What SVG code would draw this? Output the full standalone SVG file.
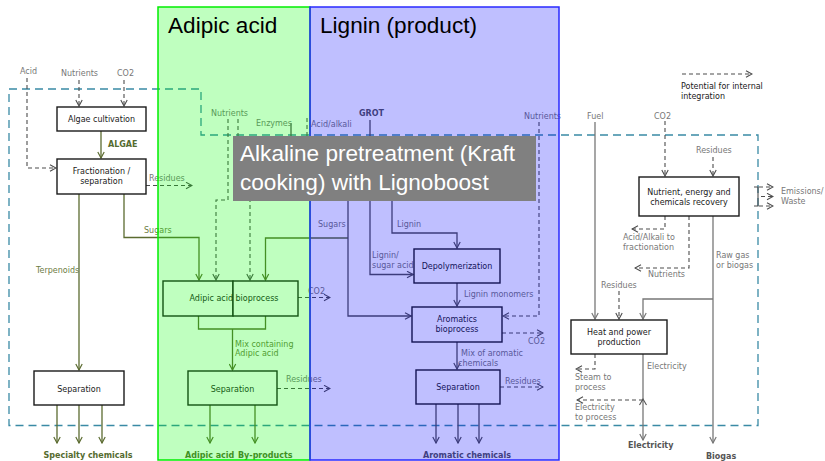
<svg xmlns="http://www.w3.org/2000/svg" width="825" height="461" viewBox="0 0 825 461">
<style>
.box{fill:#fff;stroke:#1a1a1a;stroke-width:1.4}
.nt{font-family:"DejaVu Sans",sans-serif;font-size:8px;fill:#1a1a1a;text-anchor:middle}
.lb{font-family:"DejaVu Sans",sans-serif;font-size:8px;fill:#777}
.lk{font-family:"DejaVu Sans",sans-serif;font-size:8px;fill:#1a1a1a}
.lo{font-family:"DejaVu Sans",sans-serif;font-size:8px;fill:#6e7d45}
.bd{font-family:"DejaVu Sans",sans-serif;font-size:8px;font-weight:bold}
.dsh{fill:none;stroke:#4d4d4d;stroke-width:1.1;stroke-dasharray:4,3}
.sol{fill:none;stroke:#777;stroke-width:1.3}
.olv{fill:none;stroke:#5b6b30;stroke-width:1.3}
.drk{fill:none;stroke:#505050;stroke-width:1.3}
.ttl{font-family:"Liberation Sans",Arial,sans-serif;font-size:22.6px;fill:#000}
.wt{fill:#fff}
</style>
<defs>
<marker id="ad" viewBox="0 0 10 10" refX="9" refY="5" markerWidth="8" markerHeight="8" markerUnits="userSpaceOnUse" orient="auto"><path d="M1.5,1 L9,5 L1.5,9" fill="none" stroke="#4d4d4d" stroke-width="1.4"/></marker>
<marker id="ag" viewBox="0 0 10 10" refX="9" refY="5" markerWidth="8" markerHeight="8" markerUnits="userSpaceOnUse" orient="auto"><path d="M1.5,1 L9,5 L1.5,9" fill="none" stroke="#777" stroke-width="1.5"/></marker>
<marker id="ao" viewBox="0 0 10 10" refX="9" refY="5" markerWidth="8" markerHeight="8" markerUnits="userSpaceOnUse" orient="auto"><path d="M1.5,1 L9,5 L1.5,9" fill="none" stroke="#5b6b30" stroke-width="1.5"/></marker>
<marker id="ak" viewBox="0 0 10 10" refX="9" refY="5" markerWidth="8" markerHeight="8" markerUnits="userSpaceOnUse" orient="auto"><path d="M1.5,1 L9,5 L1.5,9" fill="none" stroke="#505050" stroke-width="1.5"/></marker>
</defs>
<rect width="825" height="461" fill="#fff"/>

<g id="connectors">
<path d="M9,89 H201 V135 H758 V425.5 H9 Z" fill="none" stroke="#3a8aa5" stroke-width="1.3" stroke-dasharray="8,5"/>
<path class="dsh" d="M27,78 V168 H56" marker-end="url(#ad)"/>
<path class="dsh" d="M79,80 V106" marker-end="url(#ad)"/>
<path class="dsh" d="M124,80 V106" marker-end="url(#ad)"/>
<path class="olv" d="M101,131 V158" marker-end="url(#ao)"/>
<path class="dsh" d="M146,185.5 H192" marker-end="url(#ad)"/>
<path class="olv" d="M79,194 V370" marker-end="url(#ao)"/>
<path class="olv" d="M124,194 V237.5 H199 V280" marker-end="url(#ao)"/>
<path class="olv" d="M57,405 V443" marker-end="url(#ao)"/>
<path class="olv" d="M79,405 V443" marker-end="url(#ao)"/>
<path class="olv" d="M102,405 V443" marker-end="url(#ao)"/>
<path class="dsh" d="M228,119 V200 H216 V280" marker-end="url(#ad)"/>
<path class="dsh" d="M238,119 V200 H250 V280" marker-end="url(#ad)"/>
<path class="drk" d="M291,123 V137"/>
<path class="dsh" d="M307,118 V137"/>
<path class="olv" d="M348,238 H265.5 V280" marker-end="url(#ao)"/>
<path class="olv" d="M198.5,316 V329 H265.5 V316"/>
<path class="olv" d="M232.5,329 V370" marker-end="url(#ao)"/>
<path class="dsh" d="M298,297.5 H330" marker-end="url(#ad)"/>
<path class="dsh" d="M277,388.5 H330" marker-end="url(#ad)"/>
<path class="olv" d="M210,405 V443" marker-end="url(#ao)"/>
<path class="olv" d="M255,405 V443" marker-end="url(#ao)"/>
<path class="drk" d="M370,120 V137"/>
<path class="drk" d="M348,200 V316 H411" marker-end="url(#ak)"/>
<path class="drk" d="M370,200 V274.5 H413" marker-end="url(#ak)"/>
<path class="drk" d="M392,200 V233 H457 V248" marker-end="url(#ak)"/>
<path class="drk" d="M457,283 V306" marker-end="url(#ak)"/>
<path class="dsh" d="M539,122 V316 H503" marker-end="url(#ad)"/>
<path class="dsh" d="M502,333 H543" marker-end="url(#ad)"/>
<path class="drk" d="M457,342 V369" marker-end="url(#ak)"/>
<path class="dsh" d="M500,387 H543" marker-end="url(#ad)"/>
<path class="drk" d="M436,404 V443" marker-end="url(#ak)"/>
<path class="drk" d="M458,404 V443" marker-end="url(#ak)"/>
<path class="drk" d="M479,404 V443" marker-end="url(#ak)"/>
<path class="dsh" d="M682,74 H752" marker-end="url(#ad)"/>
<path class="sol" d="M595,122 V319" marker-end="url(#ag)"/>
<path class="dsh" d="M665,121 V176" marker-end="url(#ad)"/>
<path class="dsh" d="M713,157 V176" marker-end="url(#ad)"/>
<path d="M754,187 H758 V206 H754" fill="none" stroke="#4d4d4d" stroke-width="1.1"/>
<path class="dsh" d="M759,187 H773" marker-end="url(#ad)"/>
<path class="dsh" d="M761,196.5 H773" marker-end="url(#ad)"/>
<path class="dsh" d="M759,206 H773" marker-end="url(#ad)"/>
<path class="dsh" d="M665,216 V229 H632" marker-end="url(#ad)"/>
<path class="dsh" d="M689,216 V268 H635" marker-end="url(#ad)"/>
<path class="sol" d="M713,216 V443" marker-end="url(#ag)"/>
<path class="sol" d="M713,299 H643 V319" marker-end="url(#ag)"/>
<path class="dsh" d="M619,291 V319" marker-end="url(#ad)"/>
<path class="dsh" d="M595,354 V369 H576" marker-end="url(#ad)"/>
<path class="sol" d="M643,354 V440" marker-end="url(#ag)"/>
<path d="M639.5,405 L643,399 L646.5,405" fill="none" stroke="#555" stroke-width="1.1"/>
<path class="dsh" d="M643,400 H577" marker-end="url(#ad)"/>
</g>

<g id="labels">
<text class="lb" x="20" y="74">Acid</text>
<text class="lb" x="61" y="76">Nutrients</text>
<text class="lb" x="117" y="76">CO2</text>
<text class="bd" x="108" y="147" fill="#556b2f">ALGAE</text>
<text class="lb" x="149" y="181">Residues</text>
<text class="lo" x="144" y="233">Sugars</text>
<text class="lo" x="36" y="273">Terpenoids</text>
<text class="bd" x="88" y="457.5" fill="#556b2f" text-anchor="middle">Specialty chemicals</text>
<text class="lb" x="211" y="116">Nutrients</text>
<text class="lb" x="256" y="126">Enzymes</text>
<text class="lb" x="311" y="127">Acid/alkali</text>
<text class="bd" x="359" y="116" fill="#555">GROT</text>
<text class="lb" x="308" y="294">CO2</text>
<text class="lo" x="235" y="347">Mix containing</text>
<text class="lo" x="235" y="356">Adipic acid</text>
<text class="lb" x="286" y="382">Residues</text>
<text class="bd" x="185" y="457.5" fill="#556b2f">Adipic acid</text>
<text class="bd" x="238" y="457.5" fill="#556b2f">By-products</text>
<text class="lb" x="318" y="227">Sugars</text>
<text class="lb" x="397" y="227">Lignin</text>
<text class="lb" x="372" y="258">Lignin/</text>
<text class="lb" x="372" y="268">sugar acids</text>
<text class="lb" x="464" y="297">Lignin monomers</text>
<text class="lb" x="524" y="119">Nutrients</text>
<text class="lb" x="528" y="344">CO2</text>
<text class="lb" x="461" y="355.5">Mix of aromatic</text>
<text class="lb" x="458" y="366">chemicals</text>
<text class="lb" x="505" y="384">Residues</text>
<text class="bd" x="467" y="457.5" fill="#555" text-anchor="middle">Aromatic chemicals</text>
<text class="lk" x="681" y="89">Potential for internal</text>
<text class="lk" x="681" y="99">integration</text>
<text class="lb" x="587" y="119">Fuel</text>
<text class="lb" x="654" y="118.5">CO2</text>
<text class="lb" x="696" y="153">Residues</text>
<text class="lb" x="781" y="194">Emissions/</text>
<text class="lb" x="781" y="204">Waste</text>
<text class="lb" x="623" y="239.5">Acid/Alkali to</text>
<text class="lb" x="623" y="250">fractionation</text>
<text class="lb" x="648" y="277">Nutrients</text>
<text class="lb" x="716" y="258">Raw gas</text>
<text class="lb" x="716" y="268">or biogas</text>
<text class="lb" x="601" y="288">Residues</text>
<text class="lb" x="647" y="369">Electricity</text>
<text class="lb" x="575" y="380">Steam to</text>
<text class="lb" x="575" y="389.5">process</text>
<text class="lb" x="575" y="410">Electricity</text>
<text class="lb" x="575" y="420">to process</text>
<text class="bd" x="628" y="448" fill="#555">Electricity</text>
<text class="bd" x="706" y="458.5" fill="#555">Biogas</text>
</g>

<g id="algae_cultivation"><rect class="box" x="57" y="107" width="89" height="24"/><text class="nt" x="101.5" y="122">Algae cultivation</text></g>
<g id="fractionation"><rect class="box" x="57" y="159" width="89" height="35"/><text class="nt" x="101.5" y="174">Fractionation /</text><text class="nt" x="101.5" y="184">separation</text></g>
<g id="adipic_bioprocess"><rect class="box" x="163" y="281" width="70" height="35"/><rect class="box" x="233" y="281" width="65" height="35"/><text class="nt" x="234" y="301">Adipic acid bioprocess</text></g>
<g id="separation_specialty"><rect class="box" x="34" y="371" width="90" height="34"/><text class="nt" x="79" y="391.5">Separation</text></g>
<g id="separation_adipic"><rect class="box" x="188" y="371" width="89" height="34"/><text class="nt" x="232.5" y="391.5">Separation</text></g>
<g id="depolymerization"><rect class="box" x="414" y="249" width="86" height="34"/><text class="nt" x="457" y="268.5">Depolymerization</text></g>
<g id="aromatics_bioprocess"><rect class="box" x="412" y="307" width="90" height="35"/><text class="nt" x="457" y="322">Aromatics</text><text class="nt" x="457" y="332">bioprocess</text></g>
<g id="separation_aromatic"><rect class="box" x="416" y="370" width="84" height="34"/><text class="nt" x="458" y="390">Separation</text></g>
<g id="nutrient_recovery"><rect class="box" x="639" y="177" width="100" height="39"/><text class="nt" x="689" y="194.5">Nutrient, energy and</text><text class="nt" x="689" y="204.5">chemicals recovery</text></g>
<g id="heat_power"><rect class="box" x="571" y="320" width="96" height="34"/><text class="nt" x="619" y="334.5">Heat and power</text><text class="nt" x="619" y="345">production</text></g>

<g id="panels">
<rect x="158" y="7" width="152" height="453" fill="#00ff00" fill-opacity="0.25" stroke="#00ee00" stroke-width="1.5"/>
<rect x="310" y="7" width="249" height="453" fill="#0000ff" fill-opacity="0.25" stroke="#2a2aff" stroke-width="1.5"/>
<text class="ttl" x="168" y="33">Adipic acid</text>
<text class="ttl" x="320" y="33">Lignin (product)</text>
</g>

<g id="alkaline_pretreatment">
<rect x="233" y="136" width="303" height="65" fill="#808080"/>
<text class="ttl wt" x="240" y="161">Alkaline pretreatment (Kraft</text>
<text class="ttl wt" x="240" y="190">cooking) with Lignoboost</text>
</g>
</svg>
